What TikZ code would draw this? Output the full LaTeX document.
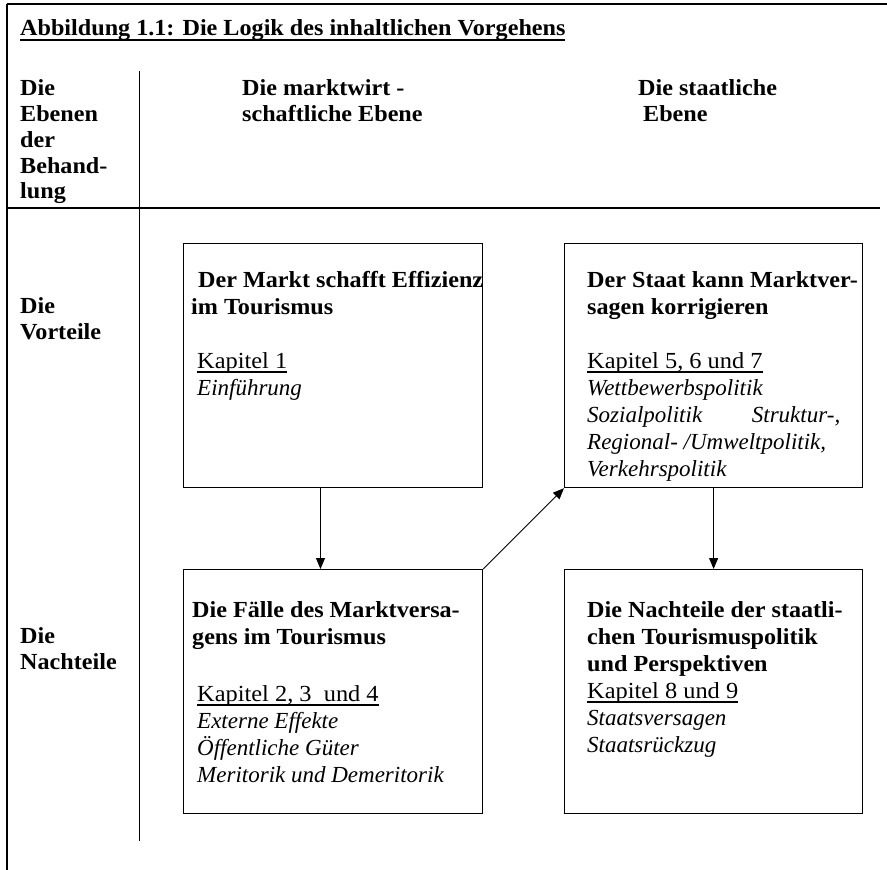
\documentclass[tikz,border=0pt]{standalone}
\usepackage{fontspec}
\setmainfont{Liberation Serif}[UprightFeatures={FakeStretch=1.06}, BoldFeatures={FakeStretch=1.05}]
\usetikzlibrary{arrows.meta,calc}
\newcommand{\ulx}[3]{\setbox0\hbox{#3}\rlap{\rule[-#1]{\wd0}{#2}}\box0}
\newcommand{\kap}[1]{\ulx{4.5pt}{1.2pt}{#1}}
\begin{document}
\begin{tikzpicture}[x=1pt,y=-1pt,
  txt/.style={inner sep=0pt, anchor=base west, font=\fontsize{23}{27}\selectfont},
  hdr/.style={txt, font=\fontsize{23}{26}\selectfont\bfseries},
  box/.style={draw, line width=1.2pt, inner sep=0pt, anchor=north west, minimum height=244pt},
  arr/.style={-{Triangle[length=11pt,width=9pt]}, line width=1pt},
  frame/.style={line width=1.5pt}]
\useasboundingbox (0,0) rectangle (887,870);
% frame
\draw[line width=2pt] (7,4) -- (887,4);
\draw[frame] (7,4) -- (7,870);
\draw[line width=1.2pt] (7,208) -- (880,208);
\draw[line width=0.9pt] (139,71) -- (139,841);
% title and headers
\node[hdr] (title) at (20,35) {\ulx{6pt}{1.8pt}{Abbildung 1.1: Die Logik des inhaltlichen Vorgehens}};
\node[hdr] (ebenen) at (20,95) {\vtop{\hbox{Die}\hbox{Ebenen}\hbox{der}\hbox{Behand-}\hbox{lung}}};
\node[hdr] (markt) at (242,95) {\vtop{\hbox{Die marktwirt -}\hbox{schaftliche Ebene}}};
\node[hdr] (staat) at (638,95) {\vtop{\hbox{Die staatliche}\hbox{\hspace{5pt}Ebene}}};
\node[hdr] (vorteile) at (20,313) {\vtop{\hbox{Die}\hbox{Vorteile}}};
\node[hdr] (nachteile) at (20,643) {\vtop{\hbox{Die}\hbox{Nachteile}}};
% boxes
\node[box, minimum width=299pt] (b1) at (183,243) {};
\node[box, minimum width=298pt] (b2) at (564,243) {};
\node[box, minimum width=299pt] (b3) at (183,569) {};
\node[box, minimum width=298pt] (b4) at (564,569) {};
% box texts
\node[txt] (t1) at (191,287) {\vtop{%
  \hbox{\bfseries\hspace{7pt}Der Markt schafft Effizienz}
  \hbox{\bfseries im Tourismus}
  \hbox{}
  \hbox{\hspace{6pt}\kap{Kapitel 1}}
  \hbox{\hspace{6pt}\itshape Einführung}}};
\node[txt] (t2) at (587,287) {\vtop{%
  \hbox{\bfseries Der Staat kann Marktver-}
  \hbox{\bfseries sagen korrigieren}
  \hbox{}
  \hbox{\kap{Kapitel 5, 6 und 7}}
  \hbox{\itshape Wettbewerbspolitik}
  \hbox to 253pt{\itshape Sozialpolitik\hfill Struktur-,}
  \hbox{\itshape Regional- /Umweltpolitik,}
  \hbox{\itshape Verkehrspolitik}}};
\node[txt] (t3) at (192,617) {\vtop{%
  \hbox{\bfseries Die Fälle des Marktversa-}
  \hbox{\bfseries gens im Tourismus}
  \hbox{}
  \vskip 3pt
  \hbox{\hspace{5pt}\kap{Kapitel 2, 3\ \ und 4}}
  \hbox{\hspace{5pt}\itshape Externe Effekte}
  \hbox{\hspace{5pt}\itshape Öffentliche Güter}
  \hbox{\hspace{5pt}\itshape Meritorik und Demeritorik}}};
\node[txt] (t4) at (587,617) {\vtop{%
  \hbox{\bfseries Die Nachteile der staatli-}
  \hbox{\bfseries chen Tourismuspolitik}
  \hbox{\bfseries und Perspektiven}
  \hbox{\kap{Kapitel 8 und 9}}
  \hbox{\itshape Staatsversagen}
  \hbox{\itshape Staatsrückzug}}};
% arrows
\draw[arr] ($(b1.south west)!0.458!(b1.south east)$) -- ($(b3.north west)!0.458!(b3.north east)$);
\draw[arr] (b3.north east) -- (b2.south west);
\draw[arr] (b2.south) -- (b4.north);
\end{tikzpicture}
\end{document}
